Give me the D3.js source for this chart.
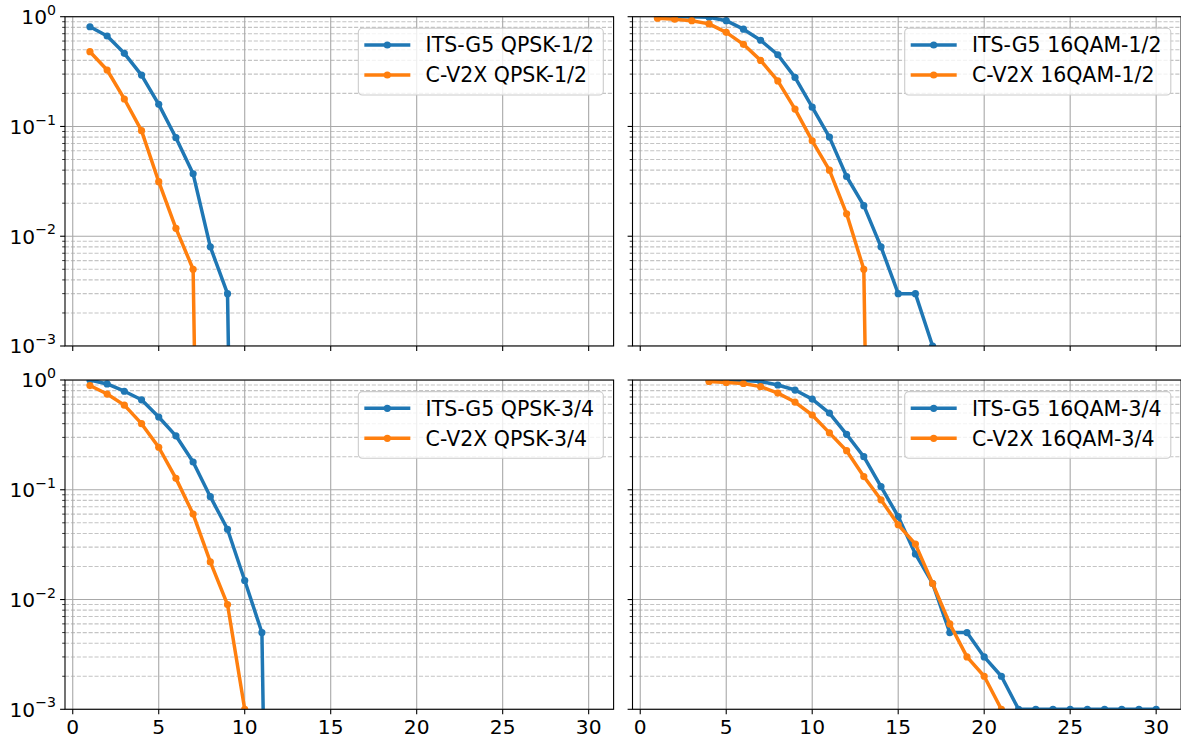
<!DOCTYPE html>
<html>
<head>
<meta charset="utf-8">
<script src="https://cdn.jsdelivr.net/npm/d3@7"></script>
<style>
  html, body { margin: 0; padding: 0; background: #ffffff; }
  svg { display: block; font-family: "DejaVu Sans", sans-serif; }
</style>
</head>
<body>
<svg id="fig" width="1181" height="740"></svg>
<script>
// SNR points (dB) shared by every curve
const snr = [1, 2, 3, 4, 5, 6, 7, 8, 9, 10, 11, 12, 13, 14, 15,
             16, 17, 18, 19, 20, 21, 22, 23, 24, 25, 26, 27, 28, 29, 30];

// Packet error rate per SNR point (null = not simulated)
const itsQpsk12 = [0.81, 0.667, 0.464, 0.294, 0.159, 0.079, 0.037, 0.008, 0.003, 0,
                   0, 0, 0, 0, 0, 0, 0, 0, 0, 0, 0, 0, 0, 0, 0, 0, 0, 0, 0, 0];
const cv2xQpsk12 = [0.48, 0.327, 0.178, 0.0916, 0.0314, 0.0118, 0.005, 0, 0, 0,
                    0, 0, 0, 0, 0, 0, 0, 0, 0, 0, 0, 0, 0, 0, 0, 0, 0, 0, 0, 0];
const its16qam12 = [1.0, 1.0, 1.0, 0.99, 0.92, 0.77, 0.61, 0.45, 0.28, 0.15,
                    0.08, 0.035, 0.019, 0.008, 0.003, 0.003, 0.001, 0, 0, 0,
                    0, 0, 0, 0, 0, 0, 0, 0, 0, 0];
const cv2x16qam12 = [0.97, 0.95, 0.92, 0.86, 0.72, 0.56, 0.40, 0.26, 0.144, 0.074,
                     0.040, 0.016, 0.005, 0, 0, 0, 0, 0, 0, 0,
                     0, 0, 0, 0, 0, 0, 0, 0, 0, 0];
const itsQpsk34 = [1.0, 0.92, 0.79, 0.66, 0.46, 0.31, 0.179, 0.0865, 0.0437, 0.0149,
                   0.005, 0, 0, 0, 0, 0, 0, 0, 0, 0, 0, 0, 0, 0, 0, 0, 0, 0, 0, 0];
const cv2xQpsk34 = [0.89, 0.745, 0.59, 0.40, 0.244, 0.127, 0.060, 0.022, 0.009, 0.001,
                    0, 0, 0, 0, 0, 0, 0, 0, 0, 0, 0, 0, 0, 0, 0, 0, 0, 0, 0, 0];
const its16qam34 = [null, null, null, 1.0, 1.0, 0.99, 0.97, 0.90, 0.81, 0.67,
                    0.50, 0.32, 0.20, 0.107, 0.057, 0.026, 0.014, 0.005, 0.005, 0.003,
                    0.002, 0.001, 0.001, 0.001, 0.001, 0.001, 0.001, 0.001, 0.001, 0.001];
const cv2x16qam34 = [null, null, null, 0.97, 0.95, 0.93, 0.87, 0.76, 0.63, 0.48,
                     0.33, 0.227, 0.132, 0.081, 0.048, 0.032, 0.014, 0.006, 0.003, 0.002,
                     0.001, 0, 0, 0, 0, 0, 0, 0, 0, 0];

// Axis ticks
const xTicks = [0, 5, 10, 15, 20, 25, 30];
const yExponents = [0, -1, -2, -3];

const BLUE = "#1f77b4", ORANGE = "#ff7f0e";

const panels = [
  { col: 0, row: 0, series: [
      { name: "ITS-G5 QPSK-1/2", values: itsQpsk12, color: BLUE },
      { name: "C-V2X QPSK-1/2", values: cv2xQpsk12, color: ORANGE }] },
  { col: 1, row: 0, series: [
      { name: "ITS-G5 16QAM-1/2", values: its16qam12, color: BLUE },
      { name: "C-V2X 16QAM-1/2", values: cv2x16qam12, color: ORANGE }] },
  { col: 0, row: 1, series: [
      { name: "ITS-G5 QPSK-3/4", values: itsQpsk34, color: BLUE },
      { name: "C-V2X QPSK-3/4", values: cv2xQpsk34, color: ORANGE }] },
  { col: 1, row: 1, series: [
      { name: "ITS-G5 16QAM-3/4", values: its16qam34, color: BLUE },
      { name: "C-V2X 16QAM-3/4", values: cv2x16qam34, color: ORANGE }] }
];

// Panel frames
const colX = [65.0, 632.5];
const rowY = [16.7, 380.0];
const PW = 548.6, PH = 329.3;
const FS = 20.2;     // tick labels
const LFS = 20.5;    // legend entries

const svg = d3.select("#fig");
const defs = svg.append("defs");

const x = d3.scaleLinear().domain([-0.45, 31.45]).range([0, PW]);
const y = d3.scaleLog().domain([1e-3, 1]).range([PH, 0]);
// zero PER sits far below the axis, so the curve drops straight out of view
const yv = v => y(v > 0 ? v : 1e-12);

const minorVals = [];
for (let e = -3; e < 0; e++) for (let m = 2; m <= 9; m++) minorVals.push(m * Math.pow(10, e));

panels.forEach((p, i) => {
  const g = svg.append("g").attr("transform", `translate(${colX[p.col]},${rowY[p.row]})`);
  const clipId = "clip" + i;
  defs.append("clipPath").attr("id", clipId)
    .append("rect").attr("x", 0).attr("y", 0).attr("width", PW).attr("height", PH);

  // grid
  const grid = g.append("g").attr("clip-path", `url(#${clipId})`);
  grid.selectAll("line.minor").data(minorVals).join("line")
    .attr("x1", 0).attr("x2", PW)
    .attr("y1", d => y(d)).attr("y2", d => y(d))
    .attr("stroke", "#c4c4c4").attr("stroke-width", 1.1)
    .attr("stroke-dasharray", "4.1,1.8");
  grid.selectAll("line.ymaj").data(yExponents).join("line")
    .attr("x1", 0).attr("x2", PW)
    .attr("y1", d => y(Math.pow(10, d))).attr("y2", d => y(Math.pow(10, d)))
    .attr("stroke", "#a8a8a8").attr("stroke-width", 1.1);
  grid.selectAll("line.xmaj").data(xTicks).join("line")
    .attr("x1", d => x(d)).attr("x2", d => x(d))
    .attr("y1", 0).attr("y2", PH)
    .attr("stroke", "#a8a8a8").attr("stroke-width", 1.1);

  // curves
  const plot = g.append("g").attr("clip-path", `url(#${clipId})`);
  p.series.forEach(s => {
    const pts = snr.map((k, j) => ({ k, v: s.values[j] }));
    const line = d3.line().defined(d => d.v !== null).x(d => x(d.k)).y(d => yv(d.v));
    plot.append("path").datum(pts).attr("d", line)
      .attr("fill", "none").attr("stroke", s.color).attr("stroke-width", 3.5)
      .attr("stroke-linejoin", "round").attr("stroke-linecap", "butt");
    plot.selectAll(null).data(pts.filter(d => d.v !== null && d.v > 0)).join("circle")
      .attr("cx", d => x(d.k)).attr("cy", d => y(d.v)).attr("r", 3.6)
      .attr("fill", s.color);
  });

  // ticks
  const tk = g.append("g").attr("stroke", "#000").attr("stroke-width", 1.1);
  tk.selectAll(null).data(xTicks).join("line")
    .attr("x1", d => x(d)).attr("x2", d => x(d)).attr("y1", PH).attr("y2", PH + 4.9);
  tk.selectAll(null).data(yExponents).join("line")
    .attr("x1", 0).attr("x2", -4.9).attr("y1", d => y(Math.pow(10, d))).attr("y2", d => y(Math.pow(10, d)));
  tk.selectAll(null).data(minorVals).join("line")
    .attr("x1", 0).attr("x2", -2.8).attr("y1", d => y(d)).attr("y2", d => y(d))
    .attr("stroke-width", 0.8);

  // tick labels: x only on the bottom row, y only on the left column
  if (p.row === 1) {
    g.selectAll(null).data(xTicks).join("text")
      .attr("x", d => x(d)).attr("y", PH + 24.7)
      .attr("text-anchor", "middle").attr("font-size", FS).attr("fill", "#000")
      .text(d => d);
  }
  if (p.col === 0) {
    yExponents.forEach(e => {
      const t = g.append("text").attr("x", -9.0).attr("y", y(Math.pow(10, e)) + 7.4)
        .attr("text-anchor", "end").attr("font-size", FS).attr("fill", "#000");
      t.append("tspan").text("10");
      t.append("tspan").attr("font-size", FS * 0.7).attr("dy", -9.3)
        .text(e === 0 ? "0" : "\u2212" + Math.abs(e));
    });
  }

  // spines
  g.append("rect").attr("x", 0).attr("y", 0).attr("width", PW).attr("height", PH)
    .attr("fill", "none").attr("stroke", "#000").attr("stroke-width", 1.1);

  // legend, sized to its longest entry
  const LH = 66.7, TXT = 67.3, PADR = 9.3;
  const lg = g.append("g");
  const box = lg.append("rect").attr("height", LH).attr("rx", 4).attr("ry", 4)
    .attr("fill", "#ffffff").attr("fill-opacity", 0.8)
    .attr("stroke", "#cccccc").attr("stroke-width", 1.1);
  let maxW = 0;
  p.series.forEach((s, j) => {
    const cy = 16.7 + j * 30;
    lg.append("line").attr("x1", 6).attr("x2", 52).attr("y1", cy).attr("y2", cy)
      .attr("stroke", s.color).attr("stroke-width", 3.5);
    lg.append("circle").attr("cx", 29).attr("cy", cy).attr("r", 3.6).attr("fill", s.color);
    const t = lg.append("text").attr("x", TXT).attr("y", cy + 7.4)
      .attr("font-size", LFS).attr("fill", "#000").text(s.name);
    maxW = Math.max(maxW, t.node().getComputedTextLength());
  });
  const LW = TXT + maxW + PADR;
  box.attr("width", LW);
  lg.attr("transform", `translate(${PW - 10.3 - LW},11.6)`);
});
</script>
</body>
</html>
